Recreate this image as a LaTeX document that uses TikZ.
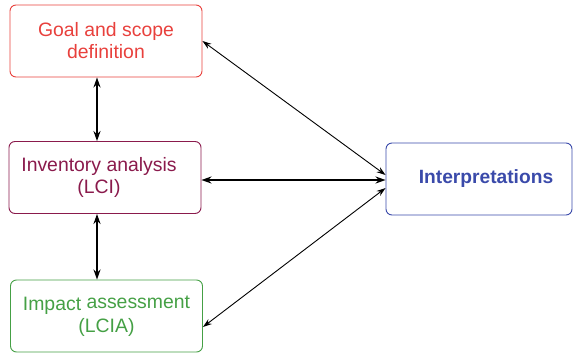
\documentclass[tikz,border=0pt]{standalone}
\usepackage{fontspec}
\setmainfont{Liberation Sans}
\usetikzlibrary{arrows.meta}
\definecolor{cred}{HTML}{E8403C}
\definecolor{cmaroon}{HTML}{8A1A4C}
\definecolor{cgreen}{HTML}{45A045}
\definecolor{cblue}{HTML}{3A4AAA}
\tikzset{
  box/.style={draw, rounded corners=6pt, line width=0.9pt, minimum width=192pt, minimum height=72pt, inner sep=0pt, align=center, font=\fontsize{19.4}{22}\selectfont},
  thinarr/.style={{Stealth[length=9pt,width=6pt]}-{Stealth[length=9pt,width=6pt]}, line width=0.9pt},
  thickarr/.style={{Stealth[length=10pt,width=7pt]}-{Stealth[length=10pt,width=7pt]}, line width=1.8pt}
}
\begin{document}
\begin{tikzpicture}[x=1pt,y=-1pt]
\useasboundingbox (0,0) rectangle (573,354);
\node[box, draw=cred, text=cred] (goal) at (106,41) {Goal and scope\\definition};
\node[box, draw=cmaroon, text=cmaroon] (lci) at (105,177.5) {\hspace*{-12pt}Inventory analysis\\\hspace*{-12pt}(LCI)};
\node[box, draw=cgreen, text=cgreen] (lcia) at (106.5,316) {Impact \raisebox{2pt}{assessment}\\(LCIA)};
\node[box, draw=cblue, text=cblue, minimum width=186pt, font=\fontsize{19.2}{22}\selectfont\bfseries] (interp) at (479,179) {\hspace*{14pt}Interpretations};
\draw[thickarr] (goal.south -| 97,0) -- (lci.north -| 97,0);
\draw[thickarr] (lci.south -| 97,0) -- (lcia.north -| 97,0);
\draw[thinarr] ([yshift=0pt]goal.east) -- ([yshift=4pt]interp.west);
\draw[thickarr] ([yshift=-2.5pt]lci.east) -- ([yshift=-1pt]interp.west);
\draw[thinarr] ([yshift=-11pt]lcia.east) -- ([yshift=-9pt]interp.west);
\end{tikzpicture}
\end{document}
